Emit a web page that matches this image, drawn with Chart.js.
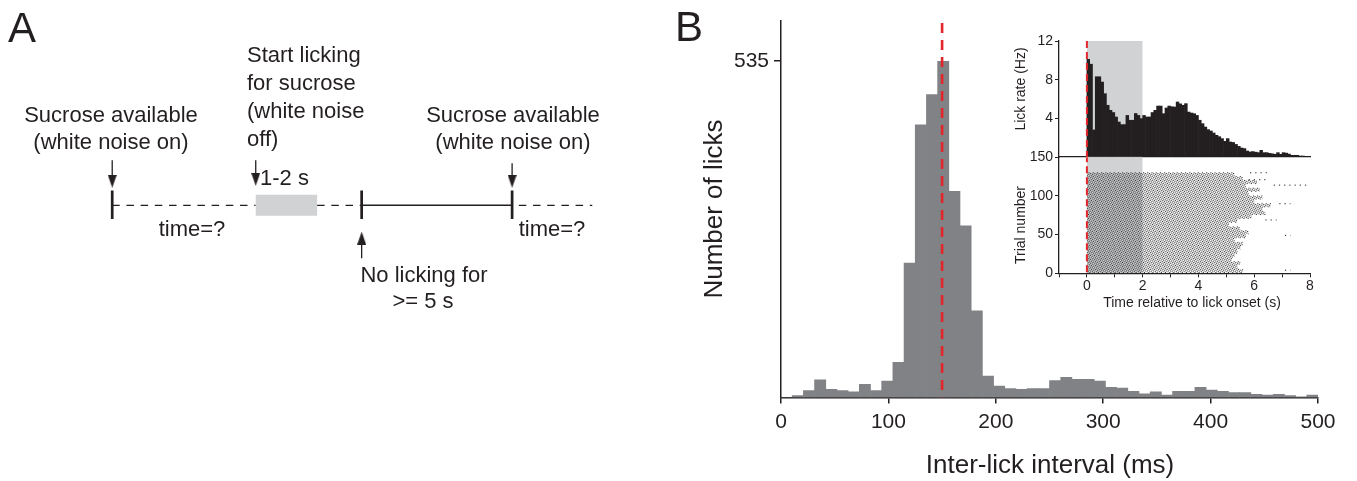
<!DOCTYPE html>
<html>
<head>
<meta charset="utf-8">
<script src="https://cdn.jsdelivr.net/npm/chart.js@4.4.1/dist/chart.umd.min.js"></script>
<style>
  body { margin: 0; background: #fff; }
  #wrap { position: relative; width: 1357px; height: 481px; overflow: hidden; }
  canvas { position: absolute; left: 0; top: 0; }
</style>
</head>
<body>
<div id="wrap">
  <canvas id="schema" width="1357" height="481"></canvas>
  <canvas id="hist" width="1357" height="481"></canvas>
  <canvas id="rate" width="1357" height="481"></canvas>
  <canvas id="raster" width="1357" height="481"></canvas>
</div>
<script>
const ink = "#231f20";
const red = "#e2262b";
const shade = "#d1d2d4";
const FONT = '"Liberation Sans", Arial, sans-serif';
Chart.defaults.font.family = FONT;
Chart.defaults.color = ink;
Chart.defaults.datasets.bar.barPercentage = 1;
Chart.defaults.datasets.bar.categoryPercentage = 1;

// ---- A: task schematic (positions along the drawn timeline) ----
const timelineY = 203;
const eventMarks = [107, 359, 511];
const dashedSpans = [[107, 252, 0], [314, 359, 0], [511, 592, 7.5]];
const solidSpan = [359, 511];
const lickWindow = [252, 314];
const downArrows = [[107, 157, 185], [252, 157, 183], [511, 160, 185]];
const upArrows = [[359, 257, 230]];

// ---- B: inter-lick interval histogram (48 bins, 0-500 ms) ----
const ilhCounts = [0, 3, 11, 28, 13, 11, 9, 21, 11, 26,
  56, 214, 434, 482, 535, 328, 273, 138, 34, 18,
  14, 13, 14, 14, 27, 32, 29, 29, 26, 16,
  15, 10, 6, 9, 4, 10, 10, 16, 12, 10,
  8, 8, 5, 4, 5, 3, 1, 4];
const ilhTicks = [0, 100, 200, 300, 400, 500];
const ilhMarker = 150;

// inset: lick rate (Hz), 0.1 s bins from 0 to 8 s
const lickRateHz = [10.1, 9.6, 2.8, 8.3, 8.3, 7.75, 6.55, 5.35, 4.83, 4.6,
  4.14, 3.62, 3.35, 3.35, 4.3, 3.8, 3.8, 4.5, 4.3, 3.97,
  4.3, 4.14, 4.14, 4.6, 4.83, 5.27, 5.27, 4.48, 5.07, 5.27,
  5.2, 5.17, 5.69, 5.5, 5.35, 5.52, 4.65, 4.55, 4.48, 4.3,
  3.8, 3.45, 3.1, 2.83, 2.69, 2.48, 2.24, 2.1, 1.9, 1.62,
  1.9, 1.55, 1.5, 1.3, 1.1, 0.93, 0.87, 0.62, 0.52, 0.56,
  0.5, 0.45, 0.69, 0.45, 0.45, 0.38, 0.33, 0.28, 0.45, 0.28,
  0.45, 0.4, 0.3, 0.17, 0.17, 0.17, 0.1, 0.1, 0.07, 0.07];
const rateBinS = 0.1;

// inset raster: end of lick bout (s) for groups of 5 trials, trial 1 upward
const boutEndByGroup = [5.6, 5.4, 5.5, 5.2, 5.3, 5.4, 5.5, 5.6, 5.3, 5.7,
  5.8, 5.5, 5.1, 5.4, 5.9, 6.4, 6.3, 6.6, 6.0, 6.3,
  5.8, 6.2, 5.7, 6.1, 5.6, 5.3];
const trialsPerGroup = 5;
// late isolated licks: [trial, start s, end s]
const lateBouts = [[130, 5.85, 6.45], [121, 5.8, 6.45], [114, 6.7, 8.0],
  [90, 6.9, 7.3], [69, 6.4, 6.8], [49, 7.1, 7.3], [4, 7.1, 7.3]];
const cueWindow = [0, 2];

// draws free text (labels, titles) on top of a chart
const textPlugin = {
  id: "texts",
  afterDraw(chart, args, opts) {
    const ctx = chart.ctx;
    (opts.items || []).forEach((t) => {
      ctx.save();
      ctx.font = (t.size || 22) + "px " + FONT;
      ctx.fillStyle = ink;
      ctx.textAlign = t.align || "left";
      ctx.textBaseline = "alphabetic";
      ctx.translate(t.x, t.y);
      if (t.rot) ctx.rotate(t.rot);
      ctx.fillText(t.text, 0, 0);
      ctx.restore();
    });
  },
};

function arrowHead(up) {
  const c = document.createElement("canvas");
  c.width = 9;
  c.height = 13;
  const g = c.getContext("2d");
  g.fillStyle = ink;
  g.beginPath();
  if (up) {
    g.moveTo(4.5, 0); g.lineTo(9, 13); g.lineTo(0, 13);
  } else {
    g.moveTo(0, 0); g.lineTo(9, 0); g.lineTo(4.5, 13);
  }
  g.fill();
  return c;
}

function seg(x1, y1, x2, y2, extra) {
  return Object.assign({
    type: "line",
    data: [{ x: x1, y: y1 }, { x: x2, y: y2 }],
    borderColor: ink,
    borderWidth: 1.3,
    pointRadius: 0,
  }, extra || {});
}

// ---------- panel A ----------
const schemaSets = [];
schemaSets.push(seg(lickWindow[0], timelineY, lickWindow[1], timelineY, { borderColor: shade, borderWidth: 21 }));
dashedSpans.forEach((s) => schemaSets.push(seg(s[0], timelineY, s[1], timelineY, { borderDash: [7.5, 6.7], borderDashOffset: s[2] })));
schemaSets.push(seg(solidSpan[0], timelineY, solidSpan[1], timelineY, { borderWidth: 1.6 }));
eventMarks.forEach((x) => schemaSets.push(seg(x, timelineY - 15, x, timelineY + 14, { borderWidth: 2.7 })));
const headDown = arrowHead(false);
const headUp = arrowHead(true);
downArrows.forEach((a) => schemaSets.push(seg(a[0], a[1], a[0], a[2] - 6.5, { pointRadius: [0, 5], pointStyle: headDown })));
upArrows.forEach((a) => schemaSets.push(seg(a[0], a[1], a[0], a[2] + 6.5, { pointRadius: [0, 5], pointStyle: headUp })));

new Chart(document.getElementById("schema"), {
  type: "line",
  data: { datasets: schemaSets },
  options: {
    responsive: false,
    animation: false,
    layout: { padding: { left: 0, top: 0, right: 737, bottom: 161 } },
    plugins: {
      legend: { display: false },
      tooltip: { enabled: false },
      texts: {
        items: [
          { text: "A", x: 8, y: 42, size: 42 },
          { text: "Sucrose available", x: 111, y: 122, align: "center" },
          { text: "(white noise on)", x: 111, y: 149, align: "center" },
          { text: "Start licking", x: 247, y: 62 },
          { text: "for sucrose", x: 247, y: 90 },
          { text: "(white noise", x: 247, y: 118 },
          { text: "off)", x: 247, y: 146 },
          { text: "1-2 s", x: 260, y: 185 },
          { text: "time=?", x: 192, y: 236, align: "center" },
          { text: "Sucrose available", x: 513, y: 122, align: "center" },
          { text: "(white noise on)", x: 513, y: 149, align: "center" },
          { text: "time=?", x: 552, y: 236, align: "center" },
          { text: "No licking for", x: 424, y: 282, align: "center" },
          { text: ">= 5 s", x: 423, y: 308, align: "center" },
        ],
      },
    },
    scales: {
      x: { type: "linear", min: 0, max: 620, display: false },
      y: { type: "linear", min: 0, max: 320, reverse: true, display: false },
    },
  },
  plugins: [textPlugin],
});

// ---------- panel B main histogram ----------
const binMs = 500 / ilhCounts.length;
const ilhLabels = ilhCounts.map((_, i) => (i * binMs).toFixed(1));

new Chart(document.getElementById("hist"), {
  type: "bar",
  data: {
    labels: ilhLabels,
    datasets: [
      {
        xAxisID: "xb",
        data: ilhCounts,
        backgroundColor: "#818285",
        barPercentage: 1,
        categoryPercentage: 1,
        grouped: false,
        order: 1,
      },
      {
        // drawn from the top down so the dash pattern starts at the top
        type: "line",
        xAxisID: "x",
        data: [{ x: ilhMarker, y: 596 }, { x: ilhMarker, y: 0 }],
        borderColor: red,
        borderWidth: 2.6,
        borderDash: [10, 7],
        pointRadius: 0,
        order: 0,
      },
    ],
  },
  options: {
    responsive: false,
    animation: false,
    layout: { padding: { left: 696, top: 21, right: 39, bottom: 0 } },
    plugins: {
      legend: { display: false },
      tooltip: { enabled: false },
      texts: {
        items: [
          { text: "B", x: 675, y: 41, size: 42 },
          { text: "Number of licks", x: 721.5, y: 209, size: 26, align: "center", rot: -Math.PI / 2 },
          { text: "Inter-lick interval (ms)", x: 1050, y: 473, size: 26, align: "center" },
        ],
      },
    },
    scales: {
      xb: {
        type: "category",
        display: false,
        offset: true,
        ticks: { autoSkip: false },
      },
      x: {
        type: "linear",
        position: "bottom",
        min: 0,
        max: 500,
        offset: false,
        afterBuildTicks: (s) => { s.ticks = ilhTicks.map((v) => ({ value: v })); },
        ticks: { font: { size: 21 }, color: ink, padding: 6 },
        grid: { drawOnChartArea: false, offset: false, tickLength: 6, color: ink, lineWidth: 1.5 },
        border: { color: ink, width: 1.5 },
        afterFit: (s) => { s.height = 83.5; },
      },
      y: {
        min: 0,
        max: 599,
        afterBuildTicks: (s) => { s.ticks = [{ value: 535 }]; },
        ticks: { font: { size: 21 }, color: ink, padding: 5 },
        grid: { drawOnChartArea: false, tickLength: 7, color: ink, lineWidth: 1.5 },
        border: { color: ink, width: 1.5 },
        afterFit: (s) => { s.width = 85; },
      },
    },
  },
  plugins: [textPlugin],
});

// ---------- inset: lick rate ----------
const insetTickFont = { size: 14 };
new Chart(document.getElementById("rate"), {
  type: "bar",
  data: {
    datasets: [
      {
        data: lickRateHz.map((v, i) => ({ x: (i + 0.5) * rateBinS, y: v })),
        backgroundColor: ink,
        barPercentage: 1,
        categoryPercentage: 1,
        grouped: false,
        order: 1,
      },
      {
        type: "line",
        data: [{ x: cueWindow[0], y: 12 }, { x: cueWindow[1], y: 12 }],
        fill: "origin",
        backgroundColor: shade,
        borderWidth: 0,
        pointRadius: 0,
        order: 5,
      },
      {
        type: "line",
        data: [{ x: 0, y: 12 }, { x: 0, y: 0 }],
        borderColor: red,
        borderWidth: 2,
        borderDash: [7, 4],
        pointRadius: 0,
        order: 0,
      },
    ],
  },
  options: {
    responsive: false,
    animation: false,
    layout: { padding: { left: 1000, top: 41, right: 47, bottom: 324 } },
    plugins: {
      legend: { display: false },
      tooltip: { enabled: false },
      texts: {
        items: [
          { text: "Lick rate (Hz)", x: 1025, y: 89, size: 14, align: "center", rot: -Math.PI / 2 },
        ],
      },
    },
    scales: {
      x: {
        type: "linear",
        min: -1,
        max: 8,
        offset: false,
        ticks: { display: false },
        grid: { display: false, offset: false },
        border: { color: ink, width: 1.3 },
        afterFit: (s) => { s.height = 0; },
      },
      y: {
        min: 0,
        max: 12,
        ticks: { stepSize: 2, font: insetTickFont, padding: 2, callback: (v) => (v > 0 && v % 4 === 0 ? v : "") },
        grid: { drawOnChartArea: false, tickLength: 4, color: ink },
        border: { color: ink, width: 1.3 },
        afterFit: (s) => { s.width = 59; },
      },
    },
  },
  plugins: [textPlugin],
});

// ---------- inset: lick raster ----------
const dotColor = "#1e1e1e";
const rasterSets = [];
boutEndByGroup.forEach((end, g) => {
  for (let k = 0; k < trialsPerGroup; k++) {
    const trial = g * trialsPerGroup + k + 1;
    rasterSets.push({
      type: "line",
      data: [{ x: 0, y: trial }, { x: end, y: trial }],
      borderColor: dotColor,
      borderWidth: 0.9,
      borderDash: [1.1, 3.1],
      borderDashOffset: (trial * 1.7) % 4.2,
      pointRadius: 0,
    });
  }
});
lateBouts.forEach(([trial, s, e]) => {
  rasterSets.push({
    type: "line",
    data: [{ x: s, y: trial }, { x: e, y: trial }],
    borderColor: dotColor,
    borderWidth: 1,
    borderDash: [1.2, 4],
    pointRadius: 0,
  });
});
rasterSets.push({
  type: "line",
  data: [{ x: cueWindow[0], y: 150 }, { x: cueWindow[1], y: 150 }],
  fill: "origin",
  backgroundColor: shade,
  borderWidth: 0,
  pointRadius: 0,
  order: 5,
});
rasterSets.push({
  type: "line",
  data: [{ x: 0, y: 150 }, { x: 0, y: 0 }],
  borderColor: red,
  borderWidth: 2,
  borderDash: [7, 4],
  borderDashOffset: 2,
  pointRadius: 0,
  order: -1,
});

new Chart(document.getElementById("raster"), {
  type: "line",
  data: { datasets: rasterSets },
  options: {
    responsive: false,
    animation: false,
    layout: { padding: { left: 1000, top: 157.3, right: 47, bottom: 167.7 } },
    plugins: {
      legend: { display: false },
      tooltip: { enabled: false },
      texts: {
        items: [
          { text: "Trial number", x: 1025, y: 225, size: 14, align: "center", rot: -Math.PI / 2 },
          { text: "Time relative to lick onset (s)", x: 1192, y: 307, size: 14, align: "center" },
        ],
      },
    },
    scales: {
      x: {
        type: "linear",
        min: -1,
        max: 8,
        offset: false,
        ticks: { stepSize: 1, font: insetTickFont, padding: 0, maxRotation: 0, callback: (v) => (v % 2 === 0 ? v : "") },
        grid: { drawOnChartArea: false, offset: false, tickLength: 4, color: ink },
        border: { color: ink, width: 1.3 },
        afterFit: (s) => { s.height = 40; },
      },
      y: {
        min: 0,
        max: 150,
        ticks: { stepSize: 25, font: insetTickFont, padding: 2, callback: (v) => (v % 50 === 0 ? v : "") },
        grid: { drawOnChartArea: false, tickLength: 4, color: ink },
        border: { color: ink, width: 1.3 },
        afterFit: (s) => { s.width = 59; },
      },
    },
  },
  plugins: [textPlugin],
});
</script>
</body>
</html>
